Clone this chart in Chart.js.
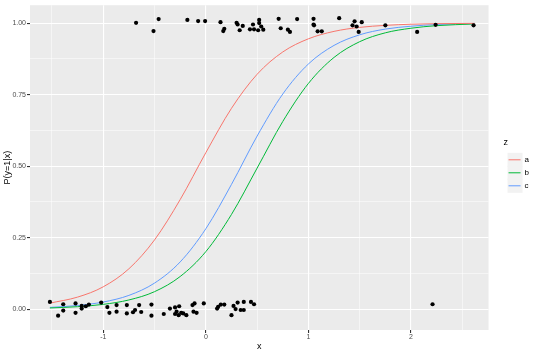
<!DOCTYPE html>
<html>
<head>
<meta charset="utf-8">
<script src="https://cdn.jsdelivr.net/npm/chart.js@4.4.1/dist/chart.umd.min.js"></script>
<style>
  html, body { margin: 0; padding: 0; background: #ffffff; }
  #wrap { width: 540px; height: 355px; }
</style>
</head>
<body>
<div id="wrap"><canvas id="myChart" width="540" height="355"></canvas></div>
<script>
// fitted curves
const curveX = [-1.52, -1.25, -1, -0.75, -0.5, -0.25, 0, 0.25, 0.5, 0.75, 1, 1.25, 1.5, 1.75, 2, 2.25, 2.62]
const curveA = [0.021, 0.042, 0.078, 0.141, 0.242, 0.383, 0.547, 0.702, 0.821, 0.899, 0.945, 0.971, 0.985, 0.992, 0.996, 0.998, 0.999]
const curveB = [0.004, 0.0085, 0.0166, 0.032, 0.061, 0.114, 0.201, 0.331, 0.493, 0.656, 0.789, 0.880, 0.935, 0.966, 0.982, 0.991, 0.997]
const curveC = [0.006, 0.0127, 0.0248, 0.048, 0.091, 0.165, 0.281, 0.436, 0.605, 0.752, 0.857, 0.922, 0.959, 0.979, 0.989, 0.995, 0.998]

// jittered observations (y = 1 group, then y = 0 group)
const ptX = [
  -0.68, -0.51, -0.46, -0.18, -0.075, -0.007, 0.143, 0.18, 0.17, 0.30, 0.31, 0.33, 0.36,
  0.43, 0.46, 0.47, 0.51, 0.52, 0.52, 0.54, 0.56, 0.71, 0.73, 0.80, 0.82, 0.89,
  1.05, 1.05, 1.055, 1.09, 1.13, 1.30, 1.43, 1.45, 1.47, 1.49, 1.52, 1.75, 2.06, 2.24, 2.61,
  -1.52, -1.44, -1.39, -1.39, -1.27, -1.27, -1.21, -1.21, -1.17, -1.14, -1.02, -0.96, -0.94,
  -0.87, -0.87, -0.77, -0.77, -0.71, -0.69, -0.65, -0.63, -0.53, -0.53, -0.41, -0.35,
  -0.30, -0.30, -0.285, -0.26, -0.265, -0.24, -0.22, -0.19, -0.13, -0.11, -0.12, -0.09, -0.02,
  0.11, 0.12, 0.146, 0.18, 0.25, 0.27, 0.29, 0.31, 0.34, 0.37, 0.37, 0.44, 0.47, 2.21
]
const ptY = [
  1.001, 0.972, 1.014, 1.011, 1.007, 1.007, 1.003, 0.980, 0.972, 1.001, 0.995, 0.975, 0.990,
  0.978, 0.995, 0.978, 0.975, 1.011, 1.000, 0.988, 0.977, 1.015, 0.982, 0.977, 0.969, 1.014,
  1.015, 0.995, 0.992, 0.971, 0.971, 1.017, 0.992, 1.006, 0.988, 0.969, 1.003, 0.992, 0.969, 0.994, 0.992,
  0.025, -0.023, 0.017, -0.005, 0.020, -0.013, 0.011, 0.002, 0.010, 0.016, 0.023, 0.007, -0.013,
  0.014, -0.009, 0.014, -0.015, -0.011, -0.003, 0.014, -0.010, 0.016, -0.023, -0.017, 0.002,
  0.006, -0.017, -0.009, 0.010, -0.021, -0.013, -0.015, -0.021, 0.014, 0.020, -0.009, -0.013, 0.020,
  0.002, 0.008, 0.016, 0.016, -0.021, 0.011, 0.000, 0.023, -0.003, -0.003, 0.025, 0.025, 0.017, 0.017
]

const grupos = ['a', 'b', 'c']
const xTicks = [-1.5, -1, -0.5, 0, 0.5, 1, 1.5, 2, 2.5]
const yTicks = [0, 0.125, 0.25, 0.375, 0.5, 0.625, 0.75, 0.875, 1]

const huecoLeyenda = 15 // espacio libre entre el panel y las claves

function puntos(xs, ys){
  let arr = []
  for (let i = 0; i < xs.length; i++) {
    arr.push({x: xs[i], y: ys[i]})
  }
  return arr
}

function esMayor(v, paso){
  return Math.abs(v / paso - Math.round(v / paso)) < 1e-6
}

// gray panel and legend key squares, ggplot style
const panelFondo = {
  id: 'panelFondo',
  afterInit(chart){
    // ensancha la leyenda y corre su contenido a la derecha
    const lg = chart.legend
    if (!lg) return
    const fitOrig = lg.fit.bind(lg)
    lg.fit = function(){ fitOrig(); this.width += huecoLeyenda }
    const drawOrig = lg._draw.bind(lg)
    lg._draw = function(){ this.left += huecoLeyenda; drawOrig(); this.left -= huecoLeyenda }
  },
  beforeDraw(chart){
    const {ctx, chartArea} = chart
    ctx.save()
    ctx.fillStyle = '#EBEBEB'
    ctx.fillRect(chartArea.left, chartArea.top, chartArea.right - chartArea.left, chartArea.bottom - chartArea.top)
    const lg = chart.legend
    if (lg && lg.legendHitBoxes) {
      lg.legendHitBoxes.forEach((b) => {
        ctx.fillStyle = '#F2F2F2'
        ctx.fillRect(b.left + huecoLeyenda - 1, b.top + b.height / 2 - 7, 15, 14)
      })
    }
    ctx.restore()
  }
}

const ctx = document.getElementById('myChart')

const ejeGrid = (paso) => ({
  color: '#FFFFFF',
  lineWidth: (c) => esMayor(c.tick.value, paso) ? 1.1 : 0.5,
  tickColor: (c) => esMayor(c.tick.value, paso) ? '#333333' : 'rgba(0,0,0,0)',
  tickLength: 3,
  drawTicks: true
})

new Chart(ctx, {
  type: 'scatter',
  data: {
    datasets: [
      {
        label: 'obs',
        data: puntos(ptX, ptY),
        backgroundColor: '#000000',
        borderColor: '#000000',
        pointRadius: 2.1,
        pointBorderWidth: 0,
        showLine: false
      },
      {
        label: grupos[0],
        data: puntos(curveX, curveA),
        borderColor: '#F8766D',
        backgroundColor: '#F8766D',
        borderWidth: 1,
        showLine: true,
        pointRadius: 0,
        cubicInterpolationMode: 'monotone'
      },
      {
        label: grupos[1],
        data: puntos(curveX, curveB),
        borderColor: '#00BA38',
        backgroundColor: '#00BA38',
        borderWidth: 1,
        showLine: true,
        pointRadius: 0,
        cubicInterpolationMode: 'monotone'
      },
      {
        label: grupos[2],
        data: puntos(curveX, curveC),
        borderColor: '#619CFF',
        backgroundColor: '#619CFF',
        borderWidth: 1,
        showLine: true,
        pointRadius: 0,
        cubicInterpolationMode: 'monotone'
      }
    ]
  },
  options: {
    responsive: false,
    animation: false,
    layout: { padding: { top: 3, right: 1, bottom: 0, left: 0 } },
    plugins: {
      tooltip: { enabled: false },
      legend: {
        position: 'right',
        align: 'start',
        title: {
          display: true, text: 'z', position: 'start', color: '#000000',
          font: { family: 'Liberation Sans', size: 9 },
          padding: { top: 135, bottom: 2 }
        },
        labels: {
          filter: (item) => item.text !== 'obs',
          usePointStyle: true,
          pointStyle: 'line',
          pointStyleWidth: 12,
          boxHeight: 8,
          padding: 5,
          color: '#000000',
          font: { family: 'Liberation Sans', size: 8 }
        }
      }
    },
    scales: {
      x: {
        type: 'linear',
        min: -1.714,
        max: 2.756,
        afterBuildTicks: (scale) => { scale.ticks = xTicks.map((v) => ({value: v})) },
        afterFit: (scale) => { scale.height = 25 },
        grid: ejeGrid(1),
        border: { display: false },
        ticks: {
          autoSkip: false,
          maxRotation: 0,
          padding: 0,
          color: '#4D4D4D',
          font: { family: 'Liberation Sans', size: 7 },
          callback: (v) => esMayor(v, 1) ? String(v) : ''
        },
        title: { display: true, text: 'x', color: '#000000', font: { family: 'Liberation Sans', size: 9 }, padding: { top: 1, bottom: 3 } }
      },
      y: {
        type: 'linear',
        min: -0.073,
        max: 1.0625,
        afterBuildTicks: (scale) => { scale.ticks = yTicks.map((v) => ({value: v})) },
        afterFit: (scale) => { scale.width = 30 },
        grid: ejeGrid(0.25),
        border: { display: false },
        ticks: {
          autoSkip: false,
          padding: 1,
          color: '#4D4D4D',
          font: { family: 'Liberation Sans', size: 7 },
          callback: (v) => esMayor(v, 0.25) ? v.toFixed(2) : ''
        },
        title: { display: true, text: 'P(y=1|x)', color: '#000000', font: { family: 'Liberation Sans', size: 9 }, padding: { top: 2, bottom: 0 } }
      }
    }
  },
  plugins: [panelFondo]
})
</script>
</body>
</html>
